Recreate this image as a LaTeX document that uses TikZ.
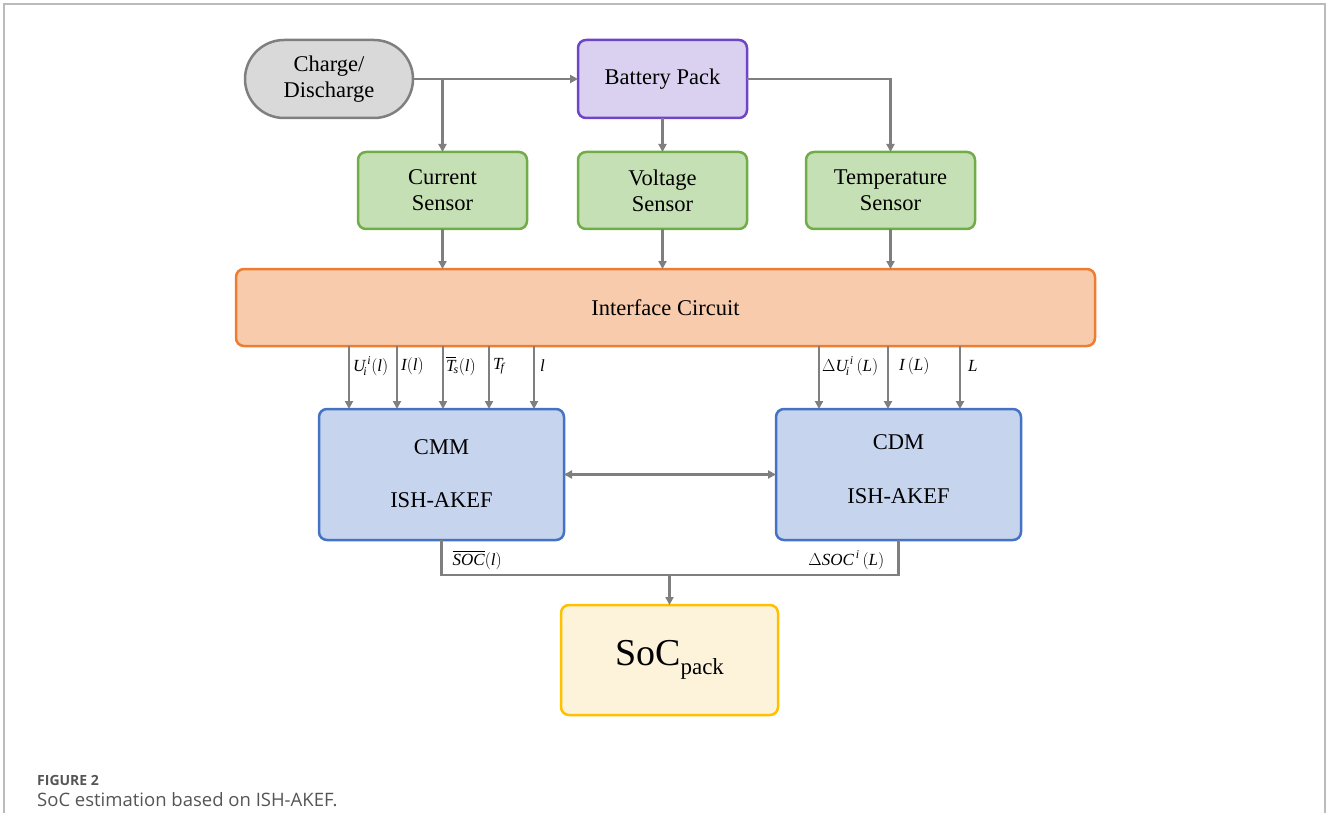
\documentclass[tikz,border=0pt]{standalone}
\usepackage{amsmath}
\usepackage{fontspec}
\setmainfont{Liberation Serif}
\newfontfamily\capfont{Open Sans}
\usetikzlibrary{arrows.meta,calc}
\definecolor{lgray}{HTML}{7F7F7F}
\definecolor{cdfill}{HTML}{D9D9D9}
\definecolor{bpfill}{HTML}{D9D1EF}
\definecolor{bpdraw}{HTML}{6E45C8}
\definecolor{gfill}{HTML}{C5E0B4}
\definecolor{gdraw}{HTML}{70AD47}
\definecolor{ofill}{HTML}{F8CBAD}
\definecolor{odraw}{HTML}{ED7D31}
\definecolor{bfill}{HTML}{C6D4EE}
\definecolor{bdraw}{HTML}{4472C4}
\definecolor{yfill}{HTML}{FDF3DB}
\definecolor{ydraw}{HTML}{FFC000}
\definecolor{capgray}{HTML}{555555}
\definecolor{framegray}{HTML}{BBBBBB}
\newcommand{\ital}[1]{\text{\itshape #1}}
\begin{document}
\begin{tikzpicture}[x=1pt,y=-1pt,
  box/.style={draw, rounded corners=8pt, line width=2.5pt, outer sep=0pt, inner sep=0pt, align=center, font=\fontsize{22.5}{26}\selectfont},
  line/.style={draw=lgray, line width=2.5pt},
  arr/.style={line, -{Triangle[length=8pt,width=8pt]}},
  darr/.style={line, {Triangle[length=8pt,width=8pt]}-{Triangle[length=8pt,width=8pt]}},
  lab/.style={anchor=west, inner sep=0pt, font=\fontsize{17}{19}\selectfont},
  inner/.style={font=\fontsize{22.5}{26}\selectfont, inner sep=0pt}
]
\useasboundingbox (0,0) rectangle (1328,813);
\draw[framegray, line width=1.5pt] (4,813) -- (4,4) -- (1325,4) -- (1325,813);

% nodes
\node[box, fill=cdfill, draw=lgray, rounded corners=39pt, minimum width=168pt, minimum height=78pt] (cd) at (329,79) {Charge/\\Discharge};
\node[box, fill=bpfill, draw=bpdraw, minimum width=169pt, minimum height=78pt] (bp) at (662.5,79) {Battery Pack};
\node[box, fill=gfill, draw=gdraw, minimum width=169pt, minimum height=77pt] (cs) at (442.5,190.5) {Current\\Sensor};
\node[box, fill=gfill, draw=gdraw, minimum width=169pt, minimum height=77pt] (vs) at (662.5,190.5) {Voltage\\Sensor};
\node[box, fill=gfill, draw=gdraw, minimum width=169pt, minimum height=77pt] (ts) at (890.5,190.5) {Temperature\\Sensor};
\node[box, fill=ofill, draw=odraw, minimum width=859pt, minimum height=77pt] (ic) at (665.5,307.5) {Interface Circuit};
\node[box, fill=bfill, draw=bdraw, minimum width=245pt, minimum height=131pt] (cmm) at (441.5,474.5) {};
\node[box, fill=bfill, draw=bdraw, minimum width=245pt, minimum height=131pt] (cdm) at (898.5,474.5) {};
\node[box, fill=yfill, draw=ydraw, minimum width=217pt, minimum height=110pt] (soc) at (669.5,660) {};

\node[inner] (cmmt) at ([yshift=27.5]cmm.center) {CMM};
\node[inner] (cmmb) at ([yshift=-25.5]cmm.center) {ISH-AKEF};
\node[inner] (cdmt) at ([yshift=32.5]cdm.center) {CDM};
\node[inner] (cdmb) at ([yshift=-21.5]cdm.center) {ISH-AKEF};
\node[inner, font=\fontsize{38}{40}\selectfont] (soct) at (soc.center) {SoC\raisebox{-9pt}{\fontsize{23}{25}\selectfont pack}};

% top connectors
\draw[arr] (cd.east) -- (bp.west);
\draw[arr] (cd.east -| cs.north) -- (cs.north);
\draw[arr] (bp.south) -- (vs.north);
\draw[arr] (bp.east) -| (ts.north);
\draw[arr] (cs.south) -- (cs.south |- ic.north);
\draw[arr] (vs.south) -- (vs.south |- ic.north);
\draw[arr] (ts.south) -- (ts.south |- ic.north);

% interface to CMM
\foreach \dx/\nm in {30/a,78/b,124/c,170/d,215/e}{
  \coordinate (cm\nm) at ([xshift=\dx]cmm.north west);
  \draw[arr] (cm\nm |- ic.south) -- (cm\nm);
}
\node[lab] (la) at ([xshift=4,yshift=43]cma) {$\ital{U}^{\,\ital{i}}_{\!\ital{i}}(\ital{l})$};
\node[lab] (lb) at ([xshift=4,yshift=43]cmb) {$\ital{I}(\ital{l})$};
\node[lab] (lc) at ([xshift=3,yshift=43]cmc) {$\overline{\ital{T}}_{\!\ital{s}}(\ital{l})$};
\node[lab] (ld) at ([xshift=4,yshift=43]cmd) {$\ital{T}_{\!\ital{f}}$};
\node[lab] (le) at ([xshift=6,yshift=43]cme) {$\ital{l}$};

% interface to CDM
\foreach \dx/\nm in {43/a,112/b,184/c}{
  \coordinate (cd\nm) at ([xshift=\dx]cdm.north west);
  \draw[arr] (cd\nm |- ic.south) -- (cd\nm);
}
\node[lab] (ma) at ([xshift=3,yshift=43]cda) {$\Delta\ital{U}^{\,\ital{i}}_{\!\ital{i}}\,(\ital{L})$};
\node[lab] (mb) at ([xshift=11,yshift=43]cdb) {$\ital{I}\,(\ital{L})$};
\node[lab] (mc) at ([xshift=8,yshift=43]cdc) {$\ital{L}$};

% CMM <-> CDM
\draw[darr] (cmm.east) -- (cdm.west);

% bottom
\coordinate (j) at (669.5,575);
\draw[line] (cmm.south) |- (j) -| (cdm.south);
\draw[arr] (j) -- (soc.north);
\node[lab] (lsoc) at ([xshift=11,yshift=-20]cmm.south) {$\overline{\ital{SOC}}(\ital{l})$};
\node[lab, anchor=east] (rsoc) at ([xshift=-14,yshift=-20]cdm.south) {$\Delta\ital{SOC}^{\,\ital{i}}\,(\ital{L})$};

% caption
\node[anchor=base west, inner sep=0pt, text=capgray, font=\capfont\bfseries\fontsize{14}{16}\selectfont] (fig) at (37,785) {FIGURE 2};
\node[anchor=base west, inner sep=0pt, text=capgray, font=\capfont\fontsize{18.5}{22}\selectfont] (cap) at (37,806) {SoC estimation based on ISH-AKEF.};
\end{tikzpicture}
\end{document}
